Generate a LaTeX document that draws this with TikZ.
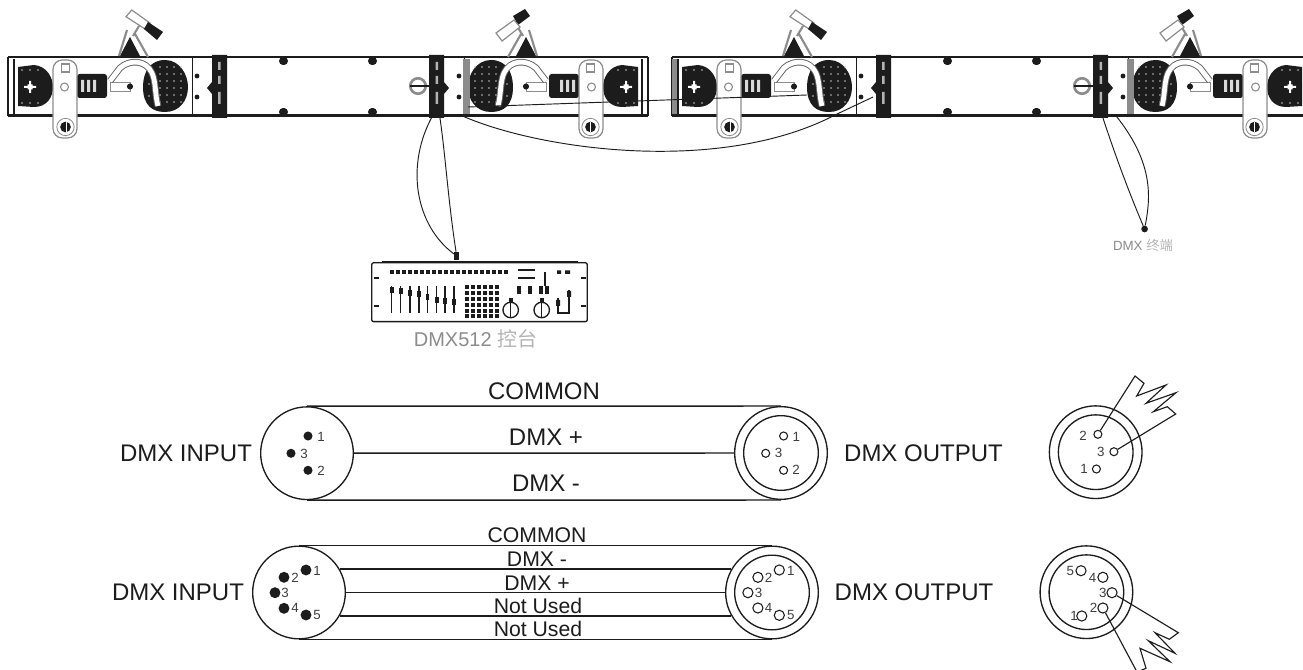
\documentclass[tikz,border=0pt]{standalone}
\usepackage{fontspec}
\setmainfont{Liberation Sans}
\newfontfamily\cjk{Noto Sans CJK SC}
\definecolor{ink}{HTML}{1C1C1C}
\definecolor{soft}{HTML}{8C8C8C}
\definecolor{faint}{HTML}{B4B4B4}
\newcommand\halfmod{%
  \draw[ink,line width=.9pt] (8,57)--(8,116) (14,59)--(14,114);
  % end blob
  \fill[ink] (18,67) -- (34,65) .. controls (47,66) and (53,78) .. (53,87) .. controls (53,97) and (47,107) .. (34,107) -- (18,106) -- cycle;
  \fill[white] (27.5,84.5) rectangle (32.5,89.5) (29,81) rectangle (31,93) (24,86) rectangle (36,88);
  \fill[ink] (21,87) circle (2pt);
  \foreach \x in {22,30,38}{\fill[soft] (\x,70) circle (.8pt) (\x,103) circle (.8pt);}
  % fan
  \fill[ink] (165,60) .. controls (180,60) and (188,75) .. (188,87) .. controls (188,100) and (180,112) .. (165,112) .. controls (152,112) and (143,105) .. (143,87) .. controls (143,72) and (150,60) .. (165,60) -- cycle;
  \foreach \x in {160,167,174,181}{\foreach \y in {67,74,81,88,95,102}{\fill[white!75!black] (\x,\y) circle (.7pt);}}
  \foreach \y in {72,84,96}{\fill[white!75!black] (149,\y) circle (.6pt);}
  % motor
  \fill[ink,rounded corners=2pt] (77,74) rectangle (107,98);
  \fill[white!85!black] (81,80) rectangle (84,92) (87,80) rectangle (90,92) (93,80) rectangle (96,92);
  \draw[soft,fill=white,line width=.7pt] (110,82) rectangle (130,91);
  \fill[ink] (130,86.5) circle (2.3pt);
  % clamp arch
  \draw[soft!70!black,line width=.7pt,double=white,double distance=3.6pt] (110,81) -- (120,68) .. controls (130,59) and (146,60) .. (152,73) .. controls (156,82) and (155,95) .. (158,106);
  % hook
  \fill[ink] (120,56) -- (130,37) -- (140,56) -- cycle;
  \draw[soft,line width=1.6pt] (127,30) -- (119,56) (139,26) -- (133,36) (135,34) -- (148,57);
}
\newcommand\halfmodb{%
  % divider
  \draw[ink,line width=.7pt] (192,58) -- (192,115);
  \fill[ink] (197,76) circle (1.8pt) (197,97) circle (1.8pt);
  % band
  \fill[ink] (212,55) -- (227,55) -- (227,118) -- (212,118) -- (212,94) -- (207,88) -- (212,82) -- cycle;
  \fill[white!70!black] (218,62) rectangle (220.5,70) (218,76) rectangle (220.5,84) (218,92) rectangle (220.5,104);
  % mid panel studs
  \fill[ink] (283,61) circle (3pt) (372,61) circle (3pt) (283,112) circle (3pt) (372,112) circle (3pt);
  % bracket
  \draw[soft,fill=white,line width=.9pt,rounded corners=7pt] (53,60) rectangle (77,138);
  \draw[soft,line width=.8pt] (64.5,87) circle (3pt);
  \draw[soft,line width=.8pt] (61.5,64) rectangle (69.5,72);
  \draw[soft,line width=.6pt] (65.5,127) circle (6.5pt);
  \fill[ink] (65.5,127) circle (4pt);
  \fill[white] (65.5,122) rectangle (66.2,132);
}
\newcommand\hookwhite{%
  \draw[soft,fill=white,line width=.9pt] (131.7,10) -- (126,16.7) -- (145,29) -- (150,23) -- cycle;
  \fill[ink] (148,22) -- (144,29) -- (157,40) -- (163,32) -- cycle;
}
\newcommand\hookblack{%
  \fill[ink] (131,9) -- (126,16) -- (138,25) -- (143,16) -- cycle;
  \draw[soft,fill=white,line width=.9pt] (142,20) -- (136,27) -- (154,41) -- (160,33) -- cycle;
}
\newcommand\knob{%
  \draw[soft,line width=2pt,fill=white] (238,86) circle (5.8pt);
  \draw[ink,line width=1.4pt] (246,86) -- (212,86);
  \fill[soft] (186,59) rectangle (193,114);
}
\newcommand\wholebar{%
  \draw[ink,line width=2.2pt] (8,57) -- (648,57) (8,115.5) -- (648,115.5);
  \begin{scope}\halfmod\hookwhite\halfmodb\end{scope}
  \begin{scope}[cm={-1,0,0,1,(656,0)}]\halfmod\hookblack\halfmodb\knob\end{scope}
}
\tikzset{
  x=.75pt,y=-.75pt,
  wire/.style={ink,line width=.7pt},
  cable/.style={ink,line width=1.1pt},
  bigdisc/.style={circle,draw=ink,fill=white,line width=1pt,inner sep=0pt,minimum size=69.5pt},
  innerdisc/.style={circle,draw=ink,line width=1pt,inner sep=0pt,minimum size=56pt},
  dotpin/.style={circle,fill=ink,inner sep=0pt,minimum size=6.8pt},
  bigdot/.style={circle,fill=ink,inner sep=0pt,minimum size=8.2pt},
  ringpin/.style={circle,draw=ink,line width=.8pt,inner sep=0pt,minimum size=6pt},
  bigring/.style={circle,draw=ink,line width=.8pt,inner sep=0pt,minimum size=7.6pt},
  numlab/.style={text=ink!85,inner sep=0pt,font=\fontsize{10pt}{11pt}\selectfont},
  biglab/.style={text=ink,inner sep=0pt,font=\fontsize{18pt}{20pt}\selectfont},
  midlab/.style={text=ink,inner sep=0pt,font=\fontsize{15.9pt}{18pt}\selectfont},
}
\begin{document}
\begin{tikzpicture}
\useasboundingbox (0,0) rectangle (1303,670);
\fill[white] (0,0) rectangle (1303,670);
\begin{scope}
\clip (0,0) rectangle (1303,670);
\wholebar
\begin{scope}[shift={(664,0)}]\wholebar\end{scope}
\fill[soft] (672,59) rectangle (677,114);
\end{scope}

% console
\node[draw=ink,line width=1pt,rounded corners=1.5pt,inner sep=0pt,minimum width=161.7pt,minimum height=44.2pt] (console) at (479.5,292.2) {};
\draw[ink,line width=1.6pt] (382,262) -- (578,262);
\foreach \x in {390,396,402,408,414,420,426,432,438,444,450,456,462,468,474,480,486,492,498,504}{\fill[ink] (\x,270.5) rectangle (\x+3.5,274);}
\foreach \x/\k in {391.7/290,400.7/291,410/293,419/294,427.3/297,436.7/300,445/301,454/302}{
  \draw[ink,line width=.9pt] (\x,286) -- (\x,313);
  \fill[ink] (\x-1.8,\k-3) rectangle (\x+1.8,\k+3);}
\foreach \x in {467,473,479,485,491,497}{\foreach \y in {287,293,299,305,311,316}{\fill[ink] (\x-2,\y-1.7) rectangle (\x+2,\y+1.7);}}
\draw[ink,line width=.8pt] (518,270) -- (535,270) (518,278) -- (535,278);
\foreach \x in {517,528,539,545}{\fill[ink] (\x,286) rectangle (\x+4,294);}
\draw[ink,line width=1.6pt] (545,272) -- (545,286);
\foreach \x in {510.7,541.7}{
  \draw[ink,line width=1pt] (\x,310) circle (5.8pt);
  \draw[ink,line width=.8pt] (\x,302) -- (\x,318);
  \fill[ink] (\x-2,298) rectangle (\x+2,302);}
\fill[ink] (557,270.5) rectangle (561,274) (565,270.5) rectangle (570,274);
\draw[ink,line width=1pt] (569,290) -- (569,313) -- (558,313) -- (558,298);
\fill[ink] (556,300) rectangle (560,306) (567,291) rectangle (571,297);
\foreach \x in {376.7,583.3}{\foreach \y in {278,305.7}{\fill[ink] (\x-2.5,\y-1) rectangle (\x+2.5,\y+1);}}
\node[inner sep=0pt,fill=ink,minimum width=3.6pt,minimum height=6pt] (plug) at (456.7,256) {};
\node[inner sep=0pt,text=soft,font=\fontsize{15pt}{17pt}\selectfont] (conlab) at (475.5,339) {DMX512 {\cjk\color{faint} 控台}};

% terminator
\node[circle,fill=ink,inner sep=0pt,minimum size=5pt] (term) at (1144.6,229) {};
\node[inner sep=0pt,text=soft,font=\fontsize{10pt}{11pt}\selectfont] (termlab) at (1143,245) {DMX {\cjk\color{faint} 终端}};

% links on the top section
\coordinate (a1) at (433,115);
\coordinate (a2) at (439.5,115);
\coordinate (b1) at (462.5,116);
\coordinate (b2) at (835,115);
\coordinate (b3) at (873,97);
\coordinate (c1) at (468,107);
\coordinate (c2) at (807,95);
\coordinate (d1) at (1102,115);
\coordinate (d2) at (1116.7,116.7);
\draw[wire] (a1) .. controls (405,165) and (415,225) .. (plug);
\draw[wire] (a2) .. controls (445,150) and (448,200) .. (plug);
\draw[wire] (b1) .. controls (540,150) and (720,175) .. (b2) -- (b3);
\draw[wire] (c1) -- (c2);
\draw[wire] (d1) .. controls (1115,155) and (1130,195) .. (term);
\draw[wire] (d2) .. controls (1155,165) and (1150,200) .. (term);

% 3-pin cable
\node[bigdisc] (iu) at (307,453.2) {};
\node[bigdisc] (ou) at (781,453) {};
\node[innerdisc] (oui) at (781,453) {};
\draw[cable] (iu.north) -- (ou.north);
\draw[cable] (iu.east) -- (ou.west);
\draw[cable] (iu.south) -- (ou.south);
\node[biglab] (iulab) at (186,453.3) {DMX INPUT};
\node[biglab] (oulab) at (923.5,453.3) {DMX OUTPUT};
\node[biglab] (ct) at (544,391.7) {COMMON};
\node[biglab] (dp) at (546,437.3) {DMX +};
\node[biglab] (dm) at (546,483.3) {DMX -};
\node[dotpin] (iu1) at (308,436) {};
\node[dotpin] (iu3) at (291,453.3) {};
\node[dotpin] (iu2) at (308,470.3) {};
\node[numlab] (iu1l) at (321,436.5) {1};
\node[numlab] (iu3l) at (304,454) {3};
\node[numlab] (iu2l) at (321,470.5) {2};
\node[ringpin] (ou1) at (783.6,436) {};
\node[ringpin] (ou3) at (765.7,453.3) {};
\node[ringpin] (ou2) at (783.6,470.3) {};
\node[numlab] (ou1l) at (796.4,436.6) {1};
\node[numlab] (ou3l) at (778.6,453.3) {3};
\node[numlab] (ou2l) at (796,470.3) {2};

% 5-pin cable
\node[bigdisc] (il) at (299,592.5) {};
\node[bigdisc] (ol) at (772,592.5) {};
\node[innerdisc] (oli) at (772,592.5) {};
\draw[cable] (il.north) -- (ol.north);
\draw[cable] (il.30) -- (ol.150);
\draw[cable] (il.east) -- (ol.west);
\draw[cable] (il.-30) -- (ol.-150);
\draw[cable] (il.south) -- (ol.south);
\node[biglab] (illab) at (178,592.7) {DMX INPUT};
\node[biglab] (ollab) at (914,592.7) {DMX OUTPUT};
\node[midlab] (l1) at (537,535) {COMMON};
\node[midlab] (l2) at (537,559.3) {DMX -};
\node[midlab] (l3) at (537,583.3) {DMX +};
\node[midlab] (l4) at (538,606) {Not Used};
\node[midlab] (l5) at (538,629.3) {Not Used};
\node[bigdot] (il1) at (306,570) {};
\node[bigdot] (il2) at (284,577.3) {};
\node[bigdot] (il3) at (275,592.7) {};
\node[bigdot] (il4) at (284,608.3) {};
\node[bigdot] (il5) at (306,615) {};
\node[numlab] (il1l) at (317,570.5) {1};
\node[numlab] (il2l) at (295,578.3) {2};
\node[numlab] (il3l) at (285,592.7) {3};
\node[numlab] (il4l) at (295,608.3) {4};
\node[numlab] (il5l) at (317,615.3) {5};
\node[bigring] (ol1) at (779.3,570) {};
\node[bigring] (ol2) at (757.9,577.3) {};
\node[bigring] (ol3) at (747.9,592.7) {};
\node[bigring] (ol4) at (757.9,608) {};
\node[bigring] (ol5) at (779.3,615.3) {};
\node[numlab] (ol1l) at (790.7,570.5) {1};
\node[numlab] (ol2l) at (768.6,578) {2};
\node[numlab] (ol3l) at (758.6,592.7) {3};
\node[numlab] (ol4l) at (768.6,608.3) {4};
\node[numlab] (ol5l) at (790.7,615) {5};

% right 3-pin connector
\node[bigdisc,fill=none] (ru) at (1095.7,452.2) {};
\node[innerdisc] (rui) at (1095.7,452.2) {};
\node[ringpin] (ru2) at (1097.9,434.3) {};
\node[ringpin] (ru3) at (1113.9,451.7) {};
\node[ringpin] (ru1) at (1096.4,469) {};
\node[numlab] (ru2l) at (1083,435.5) {2};
\node[numlab] (ru3l) at (1100.7,451.7) {3};
\node[numlab] (ru1l) at (1084,469.3) {1};
\coordinate (tw1) at (1135,376);
\coordinate (tw2) at (1175.7,414);
\draw[wire,line width=.85pt] (ru2) -- (tw1) -- (1144,383.3) -- (1136.7,396) -- (1166,385) -- (1146,403.3) -- (1176,392.7) -- (1153.3,411.7) -- (1167.3,406.7) -- (tw2) -- (ru3);

% right 5-pin connector
\node[bigdisc,fill=none] (rl) at (1086.4,592.2) {};
\node[innerdisc] (rli) at (1086.4,592.2) {};
\node[bigring] (rl5) at (1081,570.7) {};
\node[bigring] (rl4) at (1102.9,577.3) {};
\node[bigring] (rl3) at (1112,592.7) {};
\node[bigring] (rl2) at (1102.9,608) {};
\node[bigring] (rl1) at (1081.8,616) {};
\node[numlab] (rl5l) at (1070.4,570.7) {5};
\node[numlab] (rl4l) at (1092.5,577.7) {4};
\node[numlab] (rl3l) at (1102.9,592.7) {3};
\node[numlab] (rl2l) at (1093.6,608) {2};
\node[numlab] (rl1l) at (1074,616) {1};
\coordinate (bw1) at (1178.3,632.7);
\coordinate (bw2) at (1146,668.3);
\begin{scope}
\clip (1000,540) rectangle (1303,670);
\draw[wire,line width=.85pt] (rl3) -- (bw1) -- (1169.3,639.3) -- (1155,632.7) -- (1175,653.3) -- (1148.3,640.7) -- (1170,661.7) -- (1140,648.3) -- (bw2) -- (1137,672) -- (rl2);
\end{scope}
\end{tikzpicture}
\end{document}
